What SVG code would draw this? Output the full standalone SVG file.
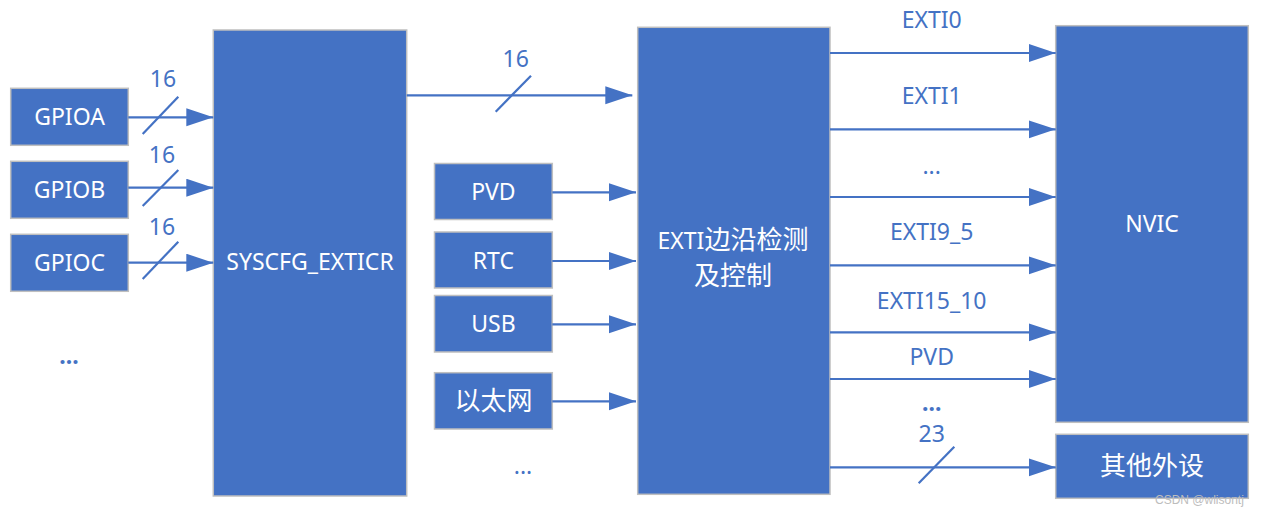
<svg xmlns="http://www.w3.org/2000/svg" width="1268" height="517" viewBox="0 0 1268 517">
<style>
.box{fill:#4472C4;stroke:#BFBFBF;stroke-width:1.5}
.bt{fill:#FFFFFF;font-family:"Noto Sans","Noto Sans CJK SC",sans-serif;font-size:23px;text-anchor:middle}
.cj{font-size:26px}
.lb{fill:#4472C4;font-family:"Noto Sans","Noto Sans CJK SC",sans-serif;font-size:23px;text-anchor:middle}
.ln{stroke:#4472C4;stroke-width:2.2;fill:none}
.ar{stroke:#4472C4;stroke-width:2.2;fill:none;marker-end:url(#ah)}
</style>
<defs>
<marker id="ah" markerUnits="userSpaceOnUse" markerWidth="28" markerHeight="20" refX="27" refY="9" orient="auto">
<path d="M0,0 L27,9 L0,18 Z" fill="#4472C4"/>
</marker>
</defs>
<rect width="1268" height="517" fill="#FFFFFF"/>

<g id="gpioa"><rect class="box" x="10.7" y="88.3" width="117.6" height="57"/><text class="bt" x="69.5" y="125">GPIOA</text></g>
<g id="gpiob"><rect class="box" x="10.7" y="161.3" width="117.6" height="57"/><text class="bt" x="69.5" y="198">GPIOB</text></g>
<g id="gpioc"><rect class="box" x="10.7" y="234.3" width="117.6" height="57"/><text class="bt" x="69.5" y="271">GPIOC</text></g>
<g id="syscfg"><rect class="box" x="213.3" y="30" width="193.4" height="466"/><text class="bt" x="310" y="270">SYSCFG_EXTICR</text></g>
<g id="pvd"><rect class="box" x="434.5" y="163.5" width="117.8" height="56"/><text class="bt" x="493.4" y="199.5">PVD</text></g>
<g id="rtc"><rect class="box" x="434.5" y="232" width="117.8" height="56"/><text class="bt" x="493.4" y="268.5">RTC</text></g>
<g id="usb"><rect class="box" x="434.5" y="295.5" width="117.8" height="56.5"/><text class="bt" x="493.4" y="332">USB</text></g>
<g id="eth"><rect class="box" x="434.5" y="372.7" width="117.8" height="56.3"/><text class="bt cj" x="493.4" y="410">以太网</text></g>
<g id="exti"><rect class="box" x="637.7" y="27.3" width="192.3" height="467"/><text class="bt" x="733" y="249">EXTI<tspan class="cj">边沿检测</tspan></text><text class="bt cj" x="733" y="284.5">及控制</text></g>
<g id="nvic"><rect class="box" x="1055.7" y="25.7" width="192.6" height="396.6"/><text class="bt" x="1152" y="232">NVIC</text></g>
<g id="other"><rect class="box" x="1055.7" y="434.3" width="192.6" height="64"/><text class="bt cj" x="1152" y="475">其他外设</text></g>

<g id="connectors">
<line class="ar" x1="128.3" y1="117.3" x2="213.3" y2="117.3"/>
<line class="ln" x1="142.7" y1="134" x2="178.3" y2="96.7"/>
<text class="lb" x="163" y="87">16</text>
<line class="ar" x1="128.3" y1="187.7" x2="213.3" y2="187.7"/>
<line class="ln" x1="142.7" y1="206" x2="178.3" y2="170"/>
<text class="lb" x="162" y="163">16</text>
<line class="ar" x1="128.3" y1="262.7" x2="213.3" y2="262.7"/>
<line class="ln" x1="142.7" y1="279" x2="178.3" y2="241.7"/>
<text class="lb" x="162" y="235">16</text>

<line class="ar" x1="406.7" y1="95.3" x2="632.3" y2="95.3"/>
<line class="ln" x1="495.7" y1="111.7" x2="531" y2="75.7"/>
<text class="lb" x="515.7" y="66.5">16</text>

<line class="ar" x1="552.3" y1="192.3" x2="636" y2="192.3"/>
<line class="ar" x1="552.3" y1="261" x2="636" y2="261"/>
<line class="ar" x1="552.3" y1="324.3" x2="636" y2="324.3"/>
<line class="ar" x1="552.3" y1="401.3" x2="636" y2="401.3"/>

<line class="ar" x1="830" y1="53" x2="1055.7" y2="53"/>
<text class="lb" x="931.7" y="28">EXTI0</text>
<line class="ar" x1="830" y1="129.3" x2="1055.7" y2="129.3"/>
<text class="lb" x="931.7" y="104">EXTI1</text>
<line class="ar" x1="830" y1="197" x2="1055.7" y2="197"/>
<text class="lb" x="931.7" y="174">...</text>
<line class="ar" x1="830" y1="265.3" x2="1055.7" y2="265.3"/>
<text class="lb" x="931.7" y="240">EXTI9_5</text>
<line class="ar" x1="830" y1="332.3" x2="1055.7" y2="332.3"/>
<text class="lb" x="931.7" y="309">EXTI15_10</text>
<line class="ar" x1="830" y1="379" x2="1055.7" y2="379"/>
<text class="lb" x="931.7" y="365">PVD</text>
<text class="lb" x="931.7" y="411" style="font-weight:bold">...</text>
<line class="ar" x1="830" y1="467.3" x2="1055.7" y2="467.3"/>
<line class="ln" x1="918.7" y1="483.3" x2="954.3" y2="446.7"/>
<text class="lb" x="931.7" y="441.5">23</text>
</g>

<text class="lb" x="69" y="364" style="font-weight:bold">...</text>
<text class="lb" x="523" y="474">...</text>
<text x="1155" y="504" style="fill:#BDBDBD;font-family:'Liberation Sans',sans-serif;font-size:12px">CSDN @wlisontj</text>
</svg>
